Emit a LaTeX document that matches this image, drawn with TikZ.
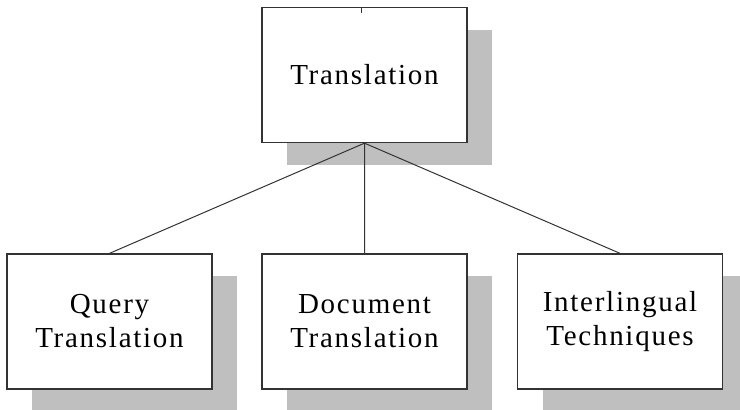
\documentclass[tikz,border=0pt]{standalone}
\usepackage{fontspec}
\setmainfont{Liberation Serif}[LetterSpace=6]
\usetikzlibrary{shadows}
\tikzset{
  box/.style={draw=black!80, line width=1.3pt, fill=white,
    minimum width=205pt, minimum height=135pt, align=center,
    font=\fontsize{29}{34}\selectfont,
    drop shadow={shadow xshift=25pt, shadow yshift=-22pt, fill=black!25, opacity=1}},
  link/.style={draw=black!80, line width=1pt}
}
\begin{document}
\begin{tikzpicture}[x=1pt,y=-1pt]
	\useasboundingbox (0,0) rectangle (740,410);
	\node[box] (trans) at (364.5,75) {Translation};
	\node[box] (query) at (109.5,321.5) {Query\\Translation};
	\node[box] (doc) at (364.5,321.5) {Document\\Translation};
	\node[box] (inter) at (620,321.5) {Interlingual\\Techniques};
	\draw[link] (trans.south) -- (query.north) (trans.south) -- (doc.north) (trans.south) -- (inter.north);
	\draw[link] ([xshift=-3pt]trans.north) -- ++(0,6);
\end{tikzpicture}
\end{document}
